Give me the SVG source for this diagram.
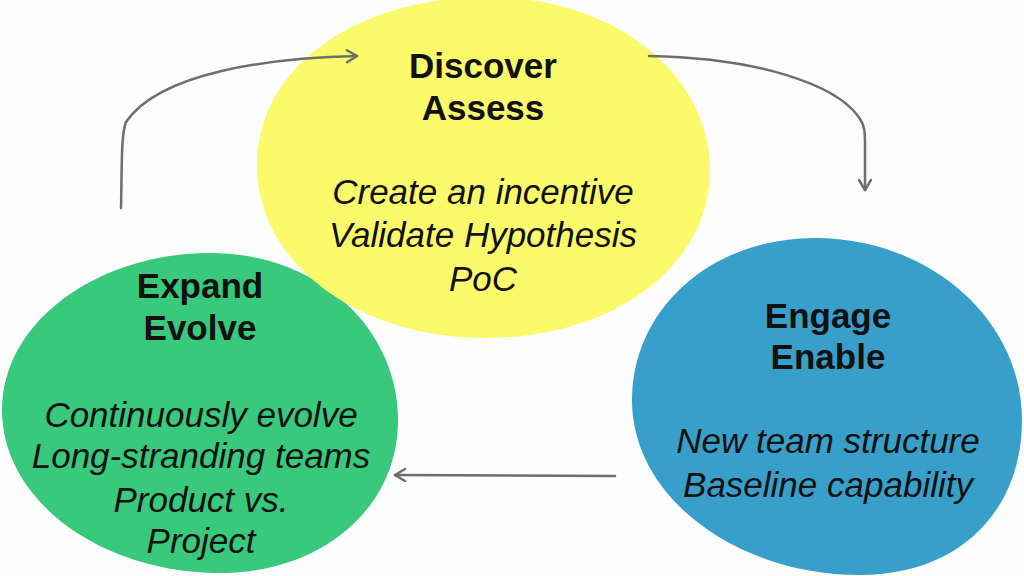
<svg xmlns="http://www.w3.org/2000/svg" width="1024" height="576" viewBox="0 0 1024 576">
  <style>
    .title { font-family: "Liberation Sans", Arial, sans-serif; font-weight: bold; font-size: 35px; fill: #111; text-anchor: middle; }
    .body { font-family: "Liberation Sans", Arial, sans-serif; font-style: italic; font-size: 35px; fill: #111; text-anchor: middle; }
    .conn { fill: none; stroke: #6e6e6e; stroke-width: 2.5; stroke-linecap: round; stroke-linejoin: round; }
  </style>
  <defs>
    <marker id="arrow" markerUnits="userSpaceOnUse" markerWidth="16" markerHeight="16" refX="12" refY="7" orient="auto">
      <path d="M2,1 L12,7 L2,13" fill="none" stroke="#6e6e6e" stroke-width="2.5" stroke-linecap="round" stroke-linejoin="round"/>
    </marker>
  </defs>
  <rect width="1024" height="576" fill="#fdfdfd"/>

  <g id="node-engage">
    <path d="M815,238 C930,238 1022,320 1022,420 C1022,510 960,575 860,575 C740,575 632,500 632,400 C632,310 710,238 815,238 Z" fill="#379fc9"/>
    <text class="title" x="828" y="328">Engage</text>
    <text class="title" x="828" y="369">Enable</text>
    <text class="body" x="828" y="453">New team structure</text>
    <text class="body" x="828" y="497">Baseline capability</text>
  </g>

  <g id="node-expand">
    <path d="M210,253 C320,253 398,330 398,420 C398,510 320,573 220,573 C100,573 2,500 2,410 C2,320 100,253 210,253 Z" fill="#38c97c"/>
    <text class="title" x="200" y="298">Expand</text>
    <text class="title" x="200" y="340">Evolve</text>
    <text class="body" x="201" y="427">Continuously evolve</text>
    <text class="body" x="201" y="468">Long-stranding teams</text>
    <text class="body" x="201" y="512">Product vs.</text>
    <text class="body" x="201" y="553">Project</text>
  </g>

  <g id="node-discover">
    <path d="M488,-3 C615,-3 710,75 710,170 C710,265 615,338 485,338 C360,338 257,265 257,165 C257,65 360,-3 488,-3 Z" fill="#fafa6a"/>
    <text class="title" x="483" y="78">Discover</text>
    <text class="title" x="483" y="120">Assess</text>
    <text class="body" x="483" y="204">Create an incentive</text>
    <text class="body" x="483" y="247">Validate Hypothesis</text>
    <text class="body" x="483" y="291">PoC</text>
  </g>

  <g id="connectors">
    <path class="conn" d="M121,208 C122,165 121,135 126,122 C160,72 270,58 357,56" marker-end="url(#arrow)"/>
    <path class="conn" d="M649,56 C760,58 835,85 858,116 C865,125 865,132 865,145 L865,190" marker-end="url(#arrow)"/>
    <path class="conn" d="M615,476 L395,475" marker-end="url(#arrow)"/>
  </g>
</svg>
